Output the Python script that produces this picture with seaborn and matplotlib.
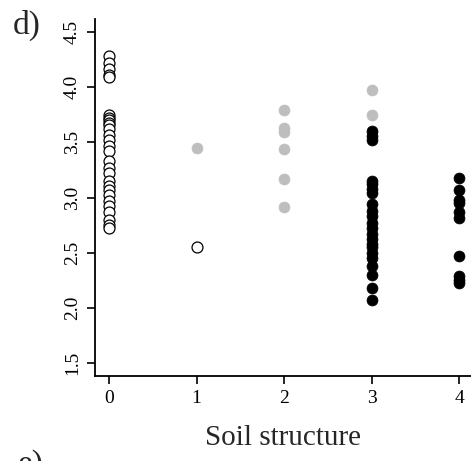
import numpy as np
import pandas as pd
import matplotlib
matplotlib.use('Agg')
import matplotlib.pyplot as plt
import seaborn as sns

# soil structure class vs response value, three point types
open_x = [0] * 28 + [1]
open_y = [4.28, 4.22, 4.17, 4.11, 4.09, 3.75, 3.72, 3.70, 3.68, 3.66, 3.62,
          3.57, 3.52, 3.47, 3.42, 3.33, 3.27, 3.22, 3.15, 3.10, 3.07, 3.02,
          2.97, 2.92, 2.87, 2.80, 2.75, 2.72, 2.55]

gray_x = [1, 2, 2, 2, 2, 2, 2, 3, 3, 3]
gray_y = [3.45, 3.79, 3.63, 3.59, 3.44, 3.17, 2.91, 3.98, 3.75, 3.59]

black_x = [3] * 22 + [4] * 10
black_y = [3.60, 3.56, 3.52, 3.15, 3.12, 3.08, 3.04, 2.94, 2.83, 2.77, 2.72,
           2.67, 2.58, 2.50, 2.45, 2.38, 2.30, 2.18, 2.07, 2.62, 2.88, 2.55,
           3.18, 3.07, 2.98, 2.87, 2.81, 2.47, 2.29, 2.25, 2.22, 2.95]

df_open = pd.DataFrame({'structure': open_x, 'value': open_y})
df_gray = pd.DataFrame({'structure': gray_x, 'value': gray_y})
df_black = pd.DataFrame({'structure': black_x, 'value': black_y})

sns.set_style('ticks')
plt.rcParams['font.family'] = ['Liberation Serif', 'DejaVu Serif']

fig = plt.figure(figsize=(4.71, 4.61), dpi=100)
ax = fig.add_axes([95 / 471, 85 / 461, 376 / 471, 357 / 461])

sns.scatterplot(x='structure', y='value', data=df_open, ax=ax, s=62,
                facecolor='white', edgecolor='black', linewidth=0.9, zorder=3)
sns.scatterplot(x='structure', y='value', data=df_gray, ax=ax, s=62,
                color='#bebebe', edgecolor='#bebebe', linewidth=0.5, zorder=3)
sns.scatterplot(x='structure', y='value', data=df_black, ax=ax, s=62,
                color='black', edgecolor='black', linewidth=0.5, zorder=4)

ax.set_xlim(-0.16, 4.137)
ax.set_ylim(1.38, 4.62)
ax.set_xticks([0, 1, 2, 3, 4])
ax.set_yticks([1.5, 2.0, 2.5, 3.0, 3.5, 4.0, 4.5])
ax.set_yticklabels(['1.5', '2.0', '2.5', '3.0', '3.5', '4.0', '4.5'],
                   rotation=90, va='center')
ax.tick_params(axis='both', length=6, width=1.2, color='black',
               labelsize=14, pad=4, labelcolor='black')
for side in ['top', 'right']:
    ax.spines[side].set_visible(False)
for side in ['left', 'bottom']:
    ax.spines[side].set_linewidth(1.3)
    ax.spines[side].set_color('black')

ax.set_xlabel('Soil structure', fontsize=21, labelpad=13)
ax.set_ylabel('')

fig.text(13 / 471, 1 - 10 / 461, 'd)', fontsize=24, va='top', ha='left')
# top of next panel's label, cut off by the lower edge as in the source
fig.text(18 / 471, 1 - 449 / 461, 'e)', fontsize=24, va='top', ha='left')

fig.savefig('out.png', dpi=100)
